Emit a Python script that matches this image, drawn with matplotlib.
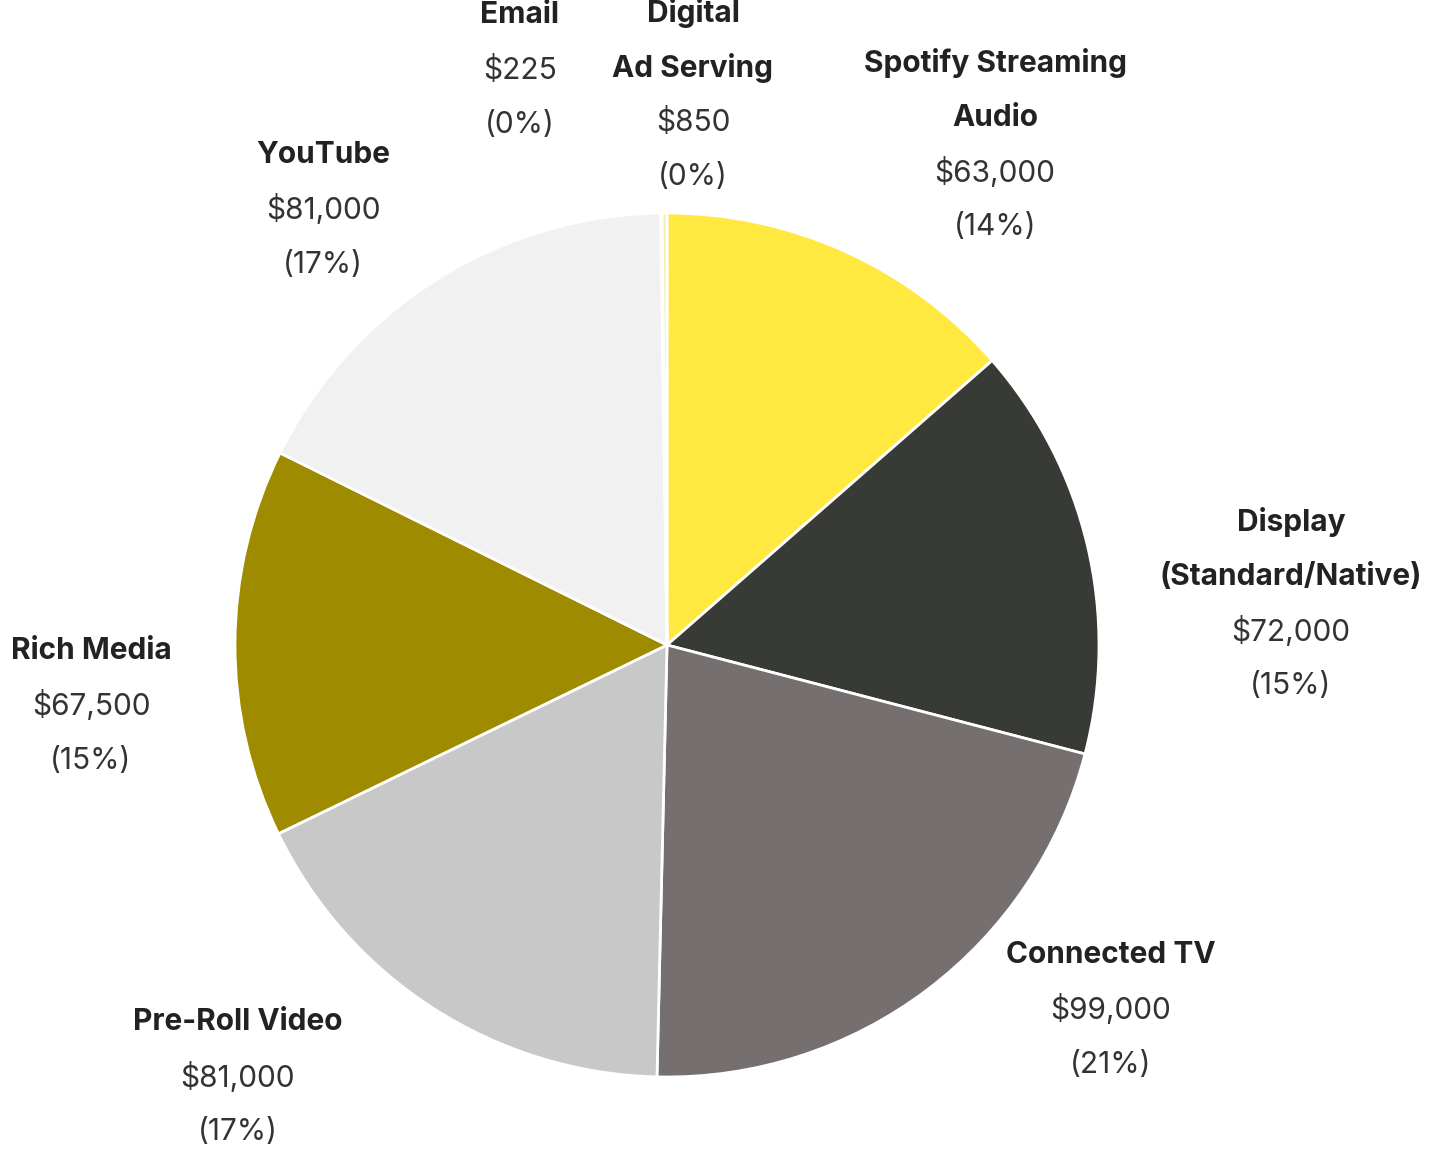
import matplotlib
matplotlib.use("Agg")
import matplotlib.pyplot as plt

plt.rcParams['font.family'] = ['Inter', 'DejaVu Sans']

# spend by channel, clockwise from 12 o'clock
channels = ['Spotify Streaming\nAudio', 'Display\n(Standard/Native)', 'Connected TV',
            'Pre-Roll Video', 'Rich Media', 'YouTube', 'Email', 'Digital\nAd Serving']
spend = [63000, 72000, 99000, 81000, 67500, 81000, 225, 850]
colors = ['#ffe83f', '#383a36', '#75706f', '#c8c8c8', '#9e8b00', '#f1f1f1', '#e6e6e6', '#f4eeb0']

# label block centers (pixels, from top-left of the image)
label_xy = [(995, 145), (1291, 604), (1111, 1010), (238, 1077),
            (91, 706), (323, 210), (520, 70), (693, 95)]

W, H = 1440, 1149
LINE = 54.6

fig = plt.figure(figsize=(W / 100, H / 100), dpi=100)
ax = fig.add_axes([0, 0, 1, 1])

ax.pie(spend, colors=colors, startangle=90, counterclock=False,
       center=(667, H - 645), radius=432,
       wedgeprops={'edgecolor': 'white', 'linewidth': 2})
ax.set_xlim(0, W)
ax.set_ylim(0, H)
ax.set_aspect('equal')
ax.axis('off')

total = sum(spend)
for name, val, (px, py) in zip(channels, spend, label_xy):
    lines = name.split('\n')
    rows = [(l, 'bold', '#222222') for l in lines]
    rows.append((f'${val:,}', 'normal', '#333333'))
    rows.append((f'({round(val / total * 100)}%)', 'normal', '#333333'))
    n = len(rows)
    for i, (txt, wt, col) in enumerate(rows):
        y = py + (i - (n - 1) / 2) * LINE
        ax.text(px, H - y, txt, ha='center', va='center', fontsize=21.5,
                fontweight=wt, color=col)

fig.savefig('out.png', dpi=100)
